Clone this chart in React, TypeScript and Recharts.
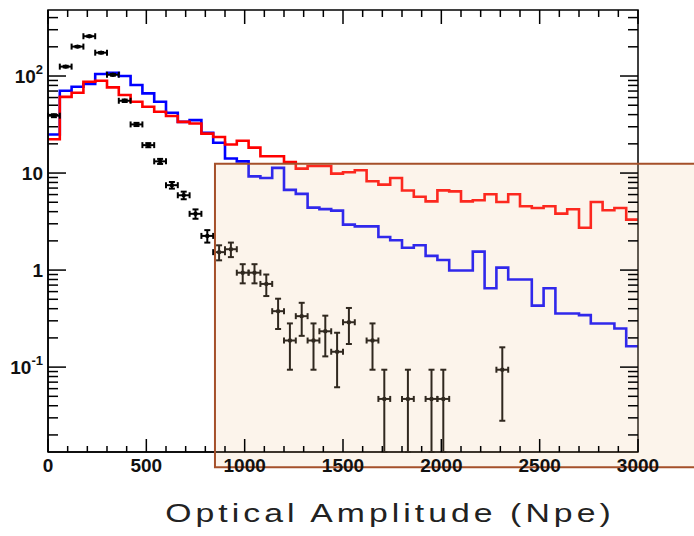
import { ComposedChart, Line, Scatter, ErrorBar, XAxis, YAxis, ReferenceArea } from 'recharts'

// bin layout of the three histograms (Npe)
const BIN_WIDTH = 60

// blue histogram, one value per 60 Npe bin
const blueBins = [
  25, 70.5, 77.6, 82.7, 105, 108, 100, 80.7, 66.3, 54.3,
  41.8, 33.7, 35.1, 26, 20.5, 14.1, 13.2, 9.25, 8.9, 11.3,
  6.7, 6.1, 4.4, 4.25, 4.1, 2.94, 2.82, 2.82, 2.19, 2.03,
  1.7, 1.8, 1.4, 1.27, 0.99, 0.99, 1.55, 0.65, 1.06, 0.8,
  0.8, 0.43, 0.65, 0.357, 0.357, 0.343, 0.281, 0.281, 0.25, 0.164,
]

// red histogram
const redBins = [
  22.3, 61, 67.3, 87.3, 89.4, 76.4, 63.7, 54.3, 48.2, 42.8,
  38.7, 33.7, 32.4, 25.5, 23.5, 19.7, 21.5, 18.3, 14.9, 14.9,
  13, 11.1, 11.8, 11.8, 9.86, 10.2, 10.7, 8.22, 7.59, 8.88,
  6.62, 5.7, 5.11, 6.63, 6.48, 5.11, 5.24, 6.04, 5.03, 6.04,
  4.54, 4.36, 4.54, 3.82, 4.23, 2.73, 5.03, 4.13, 4.36, 3.31,
]

// measured points (bin centres), values and errors
const pointX = [
  30, 90, 150, 210, 270, 330, 390, 450, 510, 570,
  630, 690, 750, 810, 870, 930, 990, 1050, 1110, 1170,
  1230, 1290, 1350, 1410, 1470, 1530, 1650, 1710, 1830, 1950,
  2010, 2310,
]
const pointY = [
  39, 125, 201, 257, 174, 103, 55.6, 31.7, 19.4, 13.2,
  7.5, 5.9, 3.8, 2.25, 1.53, 1.64, 0.94, 0.94, 0.72, 0.377,
  0.188, 0.335, 0.188, 0.234, 0.144, 0.29, 0.188, 0.047, 0.047, 0.047,
  0.047, 0.094,
]
const pointErr = [
  1.35, 2.4, 3.1, 3.5, 2.9, 2.2, 1.6, 1.2, 0.95, 0.79,
  0.59, 0.53, 0.42, 0.33, 0.27, 0.28, 0.21, 0.21, 0.18, 0.13,
  0.094, 0.125, 0.094, 0.105, 0.082, 0.117, 0.094, 0.047, 0.047, 0.047,
  0.047, 0.066,
]

// axes
const X_MIN = 0
const X_MAX = 3000
const Y_MIN = 0.01334
const Y_MAX = 479
const xMajor = [0, 500, 1000, 1500, 2000, 2500, 3000]
const xTicks = Array.from({ length: 31 }, (_, i) => i * 100)
const yMajor = [0.1, 1, 10, 100]
const yTicks = [
  0.02, 0.03, 0.04, 0.05, 0.06, 0.07, 0.08, 0.09,
  0.1, 0.2, 0.3, 0.4, 0.5, 0.6, 0.7, 0.8, 0.9,
  1, 2, 3, 4, 5, 6, 7, 8, 9,
  10, 20, 30, 40, 50, 60, 70, 80, 90,
  100, 200, 300, 400,
]
const yLabels: Record<string, [string, string]> = {
  '100': ['10', '2'],
  '10': ['10', ''],
  '1': ['1', ''],
  '0.1': ['10', '-1'],
}

// highlighted region (drawn past the frame, as in the figure)
const boxX = [849, 3400]
const boxY = [0.0093, 12.5]

const PLOT_W = 590
const PLOT_H = 442
const labelFont = '"Liberation Sans", Arial, sans-serif'

function histogram(values: number[]) {
  const pts = values.map((y, i) => ({ x: i * BIN_WIDTH, y }))
  pts.push({ x: values.length * BIN_WIDTH, y: values[values.length - 1] })
  return pts
}

const blueData = histogram(blueBins)
const redData = histogram(redBins)
const pointData = pointX.map((x, i) => ({
  x,
  y: pointY[i],
  ex: BIN_WIDTH / 2,
  ey: [Math.min(pointErr[i], pointY[i] - Y_MIN), pointErr[i]],
}))

function XTick(props: any) {
  const { x, y, payload } = props
  const major = xMajor.includes(payload.value)
  const len = major ? 13 : 6
  const top = y - PLOT_H
  return (
    <g>
      <line x1={x} y1={y} x2={x} y2={y - len} stroke="#000" strokeWidth={1.5} />
      <line x1={x} y1={top} x2={x} y2={top + (major ? 14 : 7)} stroke="#000" strokeWidth={1.5} />
      {major && (
        <text x={x} y={y + 20} textAnchor="middle" fontFamily={labelFont} fontWeight="bold" fontSize={19} fill="#111">
          {payload.value}
        </text>
      )}
    </g>
  )
}

function YTick(props: any) {
  const { x, y, payload } = props
  const major = yMajor.includes(payload.value)
  const len = major ? 18 : 10
  const right = x + PLOT_W
  const label = yLabels[String(payload.value)]
  return (
    <g>
      <line x1={x} y1={y} x2={x + len} y2={y} stroke="#000" strokeWidth={1.5} />
      <line x1={right} y1={y} x2={right - len} y2={y} stroke="#000" strokeWidth={1.5} />
      {label && (
        <text x={x - 5} y={y + 7} textAnchor="end" fontFamily={labelFont} fontWeight="bold" fontSize={19} fill="#111">
          {label[0]}
          {label[1] && (
            <tspan fontSize={13} dy={-9}>
              {label[1]}
            </tspan>
          )}
        </text>
      )}
    </g>
  )
}

function Dot(props: any) {
  return <circle cx={props.cx} cy={props.cy} r={2.2} fill="#000" />
}

export default function App() {
  return (
    <div style={{ position: 'absolute', left: 0, top: 0, width: 694, height: 536, background: '#fff' }}>
      <ComposedChart width={694} height={536} margin={{ top: 10, right: 56, bottom: 54, left: 0 }}>
        <XAxis
          type="number"
          dataKey="x"
          domain={[X_MIN, X_MAX]}
          allowDataOverflow
          ticks={xTicks}
          interval={0}
          tick={<XTick />}
          tickSize={0}
          tickMargin={0}
          tickLine={false}
          axisLine={{ stroke: '#000', strokeWidth: 1.5 }}
          height={30}
        />
        <YAxis
          type="number"
          dataKey="y"
          scale="log"
          domain={[Y_MIN, Y_MAX]}
          allowDataOverflow
          ticks={yTicks}
          interval={0}
          tick={<YTick />}
          tickSize={0}
          tickMargin={0}
          tickLine={false}
          axisLine={{ stroke: '#000', strokeWidth: 1.5 }}
          width={48}
        />
        <Line
          data={blueData}
          dataKey="y"
          type="stepAfter"
          stroke="#0000ff"
          strokeWidth={2.6}
          dot={false}
          isAnimationActive={false}
        />
        <Line
          data={redData}
          dataKey="y"
          type="stepAfter"
          stroke="#ff0000"
          strokeWidth={2.6}
          dot={false}
          isAnimationActive={false}
        />
        <Scatter data={pointData} dataKey="y" shape={<Dot />} isAnimationActive={false}>
          <ErrorBar dataKey="ex" direction="x" width={3} stroke="#000" strokeWidth={2} isAnimationActive={false} />
          <ErrorBar dataKey="ey" direction="y" width={3} stroke="#000" strokeWidth={2} isAnimationActive={false} />
        </Scatter>
        <ReferenceArea
          x1={X_MIN}
          x2={X_MAX}
          y1={Y_MIN}
          y2={Y_MAX}
          fill="none"
          stroke="#000"
          strokeWidth={1.5}
          ifOverflow="visible"
          zIndex={1400}
        />
        <ReferenceArea
          x1={boxX[0]}
          x2={boxX[1]}
          y1={boxY[0]}
          y2={boxY[1]}
          fill="#f0c89b"
          fillOpacity={0.2}
          stroke="#a5502a"
          strokeWidth={2}
          strokeOpacity={1}
          ifOverflow="visible"
          zIndex={1500}
        />
      </ComposedChart>
      <div
        style={{
          position: 'absolute',
          left: 0,
          top: 501,
          width: 780,
          textAlign: 'center',
          fontFamily: labelFont,
          fontSize: 25,
          lineHeight: '25px',
          letterSpacing: '3px',
          color: '#222',
          transform: 'scaleX(1.35)',
          transformOrigin: '390px 0',
          whiteSpace: 'nowrap',
        }}
      >
        Optical Amplitude (Npe)
      </div>
    </div>
  )
}
